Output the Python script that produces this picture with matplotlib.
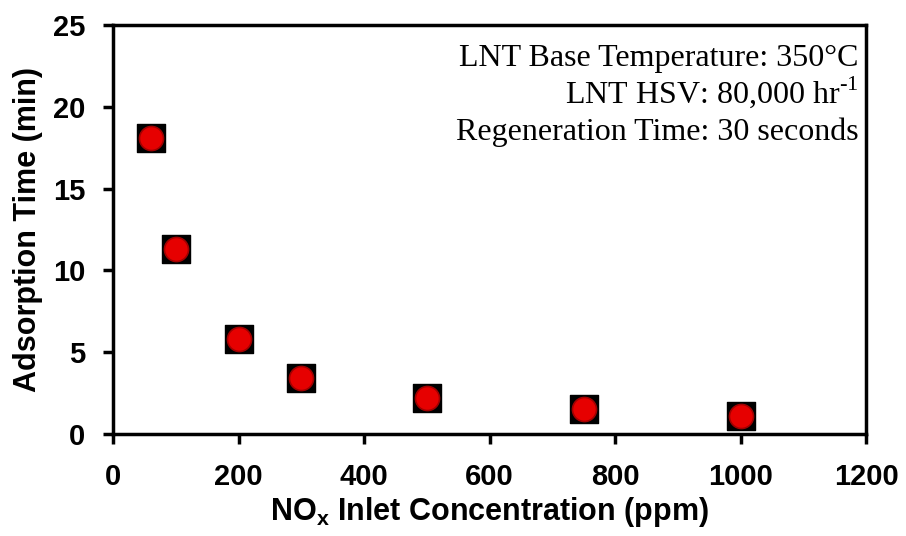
import matplotlib.pyplot as plt

# NOx inlet concentration (ppm) vs adsorption time (min)
nox_ppm = [60, 100, 200, 300, 500, 750, 1000]
ads_time = [18.1, 11.3, 5.8, 3.4, 2.2, 1.5, 1.1]

x_ticks = [0, 200, 400, 600, 800, 1000, 1200]
y_ticks = [0, 5, 10, 15, 20, 25]

notes = ['LNT Base Temperature: 350°C',
         r'LNT HSV: 80,000 hr$^{\text{-1}}$',
         'Regeneration Time: 30 seconds']

plt.rcParams['font.family'] = ['Liberation Sans', 'DejaVu Sans']
plt.rcParams['mathtext.fontset'] = 'custom'
plt.rcParams['mathtext.rm'] = 'Liberation Serif'
plt.rcParams['mathtext.bf'] = 'Liberation Sans:bold'

fig = plt.figure(figsize=(9.06, 5.36), dpi=100)
ax = fig.add_axes([0.1247, 0.1903, 0.8313, 0.7631])

# black square background with red dot on top
ax.scatter(nox_ppm, ads_time, marker='s', s=400, color='black', zorder=3)
ax.scatter(nox_ppm, ads_time, marker='o', s=300, color='#e60000',
           edgecolors='#a00000', linewidths=1.2, zorder=4)

ax.set_xlim(0, 1200)
ax.set_ylim(0, 25)
ax.set_xticks(x_ticks)
ax.set_yticks(y_ticks)
for s in ax.spines.values():
    s.set_linewidth(2.5)
ax.tick_params(axis='both', direction='out', length=7, width=2.5,
               labelsize=21)
ax.tick_params(axis='x', pad=14)
ax.tick_params(axis='y', pad=13)
for lab in ax.get_xticklabels() + ax.get_yticklabels():
    lab.set_fontweight('bold')

ax.set_xlabel(r'NO$_\mathbf{x}$ Inlet Concentration (ppm)', fontsize=22,
              fontweight='bold', labelpad=3)
ax.set_ylabel('Adsorption Time (min)', fontsize=22, fontweight='bold',
              labelpad=7)

for i, t in enumerate(notes):
    ax.text(0.99, 0.9 - i * 0.09, t, transform=ax.transAxes, ha='right',
            va='baseline', fontsize=23, family='Liberation Serif')

fig.savefig('out.png', dpi=100)
